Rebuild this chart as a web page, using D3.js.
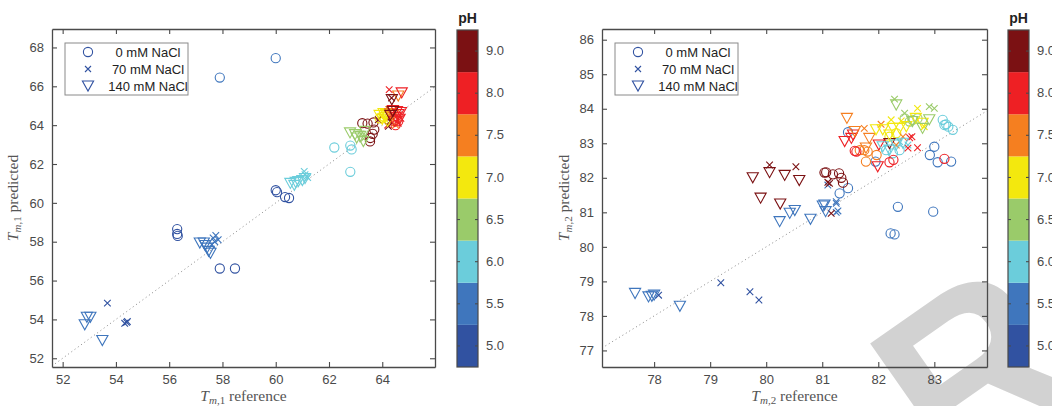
<!DOCTYPE html>
<html>
<head>
<meta charset="utf-8">
<script src="https://cdn.jsdelivr.net/npm/d3@7"></script>
<style>
body { margin: 0; background: #fff; }
svg { font-family: "Liberation Sans", Arial, sans-serif; }
</style>
</head>
<body>
<svg width="1052" height="406"></svg>
<script>
// pH categories of the colour bar, bottom to top
const phLevels = [5.0, 5.5, 6.0, 6.5, 7.0, 7.5, 8.0, 9.0]
const phColors = ['#3152a1', '#3f76bd', '#6bcddb', '#9acb6a', '#f3e80e', '#f57f20', '#ee2024', '#7b1113']
const saltLabels = ['0 mM NaCl', '70 mM NaCl', '140 mM NaCl']

// Tm,1 : [reference, predicted, pH]
const tm1Salt0 = [
	[57.9, 66.45, 5.5], [60.0, 67.45, 5.5],
	[56.3, 58.65, 5.0], [56.3, 58.4, 5.0], [56.32, 58.3, 5.0],
	[57.9, 56.62, 5.0], [58.47, 56.62, 5.0],
	[60.0, 60.65, 5.0], [60.05, 60.55, 5.0], [60.35, 60.3, 5.0], [60.5, 60.25, 5.0],
	[62.2, 62.85, 6.0], [62.8, 62.95, 6.0], [62.85, 62.75, 6.0], [62.8, 61.6, 6.0],
	[63.25, 64.1, 9.0], [63.45, 64.08, 9.0], [63.67, 64.14, 9.0], [63.7, 63.77, 9.0],
	[63.64, 63.55, 9.0], [63.55, 63.34, 9.0], [63.54, 63.16, 9.0],
	[63.9, 64.35, 7.0], [64.05, 64.45, 7.0],
	[64.45, 64.2, 7.5],
	[64.6, 64.2, 8.0], [64.5, 64.0, 8.0]
]
const tm1Salt70 = [
	[53.68, 54.84, 5.0], [54.33, 53.8, 5.0], [54.43, 53.89, 5.0], [54.4, 53.85, 5.0],
	[57.65, 58.19, 5.5], [57.75, 58.32, 5.5], [57.84, 58.1, 5.5], [57.71, 58.0, 5.5], [57.6, 57.85, 5.5],
	[61.07, 61.62, 6.0], [61.16, 61.36, 6.0], [61.1, 61.45, 6.0], [61.2, 61.3, 6.0],
	[63.2, 63.55, 6.5], [63.3, 63.3, 6.5],
	[63.95, 64.45, 7.0], [64.1, 64.3, 7.0],
	[64.3, 64.4, 7.5], [64.5, 64.0, 7.5],
	[64.26, 65.83, 8.0], [64.6, 64.1, 8.0], [64.2, 64.0, 8.0], [64.7, 64.35, 8.0],
	[63.85, 64.28, 9.0], [64.23, 63.94, 9.0], [64.3, 64.2, 9.0], [64.35, 65.4, 9.0]
]
const tm1Salt140 = [
	[52.83, 53.72, 5.5], [52.91, 54.11, 5.5], [53.04, 54.11, 5.5], [53.49, 52.91, 5.5],
	[57.15, 57.93, 5.5], [57.3, 57.93, 5.5], [57.42, 57.67, 5.5], [57.48, 57.5, 5.5], [57.35, 57.8, 5.5], [57.55, 57.4, 5.5],
	[60.55, 61.0, 6.0], [60.75, 61.05, 6.0], [60.7, 60.9, 6.0], [60.85, 61.1, 6.0], [61.0, 61.15, 6.0], [61.1, 61.25, 6.0],
	[62.79, 63.6, 6.5], [62.98, 63.51, 6.5], [63.17, 63.42, 6.5], [63.29, 63.16, 6.5], [63.04, 63.34, 6.5], [63.35, 63.68, 6.5],
	[63.9, 64.5, 7.0], [64.05, 64.6, 7.0], [64.1, 64.4, 7.0], [64.15, 64.55, 7.0], [64.0, 64.3, 7.0], [64.2, 64.2, 7.0],
	[64.3, 64.6, 7.5], [64.4, 64.5, 7.5], [64.35, 64.7, 7.5], [64.6, 65.5, 7.5],
	[64.4, 64.75, 8.0], [64.55, 64.7, 8.0], [64.6, 64.55, 8.0], [64.7, 64.65, 8.0], [64.5, 64.4, 8.0],
	[64.65, 64.3, 8.0], [64.45, 64.2, 8.0], [64.73, 65.66, 8.0],
	[64.4, 64.7, 9.0], [64.3, 64.5, 9.0], [64.36, 65.31, 9.0]
]

// Tm,2 : [reference, predicted, pH]
const tm2Salt0 = [
	[81.31, 81.55, 5.5], [81.46, 81.7, 5.5], [82.35, 81.16, 5.5], [82.98, 81.02, 5.5],
	[82.22, 80.39, 5.5], [82.29, 80.36, 5.5], [83.0, 82.9, 5.5], [82.92, 82.66, 5.5],
	[83.06, 82.45, 5.5], [83.3, 82.47, 5.5], [81.46, 83.32, 5.5], [81.95, 82.47, 5.5],
	[83.15, 83.68, 6.0], [83.18, 83.53, 6.0], [83.25, 83.48, 6.0], [83.33, 83.39, 6.0], [83.21, 83.55, 6.0],
	[82.14, 82.8, 6.0], [82.26, 82.71, 6.0], [82.38, 82.8, 6.0],
	[82.47, 83.72, 6.5], [82.61, 83.68, 6.5], [82.56, 83.63, 6.5], [82.7, 83.72, 6.5],
	[82.2, 83.19, 7.0], [82.32, 83.29, 7.0],
	[81.67, 82.8, 7.5], [81.75, 82.8, 7.5], [81.81, 82.76, 7.5], [81.78, 82.47, 7.5], [81.97, 82.66, 7.5],
	[83.18, 82.55, 8.0], [81.58, 82.78, 8.0], [81.61, 82.76, 8.0], [82.2, 82.45, 8.0], [82.27, 82.52, 8.0],
	[81.04, 82.15, 9.0], [81.07, 82.16, 9.0], [81.19, 82.1, 9.0], [81.3, 82.13, 9.0], [81.34, 82.0, 9.0], [81.37, 81.86, 9.0]
]
const tm2Salt70 = [
	[78.08, 78.6, 5.0], [79.19, 78.96, 5.0], [79.71, 78.7, 5.0], [79.87, 78.46, 5.0],
	[81.1, 81.79, 5.5], [81.25, 81.26, 5.5], [81.28, 81.04, 5.5], [81.25, 81.31, 5.5], [81.25, 81.0, 5.5],
	[80.06, 82.37, 9.0], [80.53, 82.32, 9.0], [81.13, 81.84, 9.0], [81.1, 81.87, 9.0], [81.16, 80.97, 9.0],
	[82.38, 83.05, 6.0], [82.53, 82.95, 6.0],
	[82.29, 84.28, 6.5], [82.47, 83.87, 6.5], [82.91, 84.06, 6.5], [83.0, 84.01, 6.5],
	[82.23, 83.68, 7.0], [82.41, 83.65, 7.0], [82.7, 84.01, 7.0], [82.82, 83.48, 7.0],
	[81.75, 83.43, 7.5], [82.05, 83.55, 7.5], [82.32, 82.95, 7.5], [82.44, 83.19, 7.5],
	[82.53, 82.86, 8.0], [82.6, 83.19, 8.0], [82.56, 83.16, 8.0], [82.7, 82.87, 8.0]
]
const tm2Salt140 = [
	[77.66, 78.65, 5.5], [77.9, 78.55, 5.5], [77.96, 78.57, 5.5], [78.0, 78.6, 5.5], [78.46, 78.28, 5.5],
	[80.24, 80.73, 5.5], [80.42, 80.97, 5.5], [80.51, 81.05, 5.5], [80.79, 80.8, 5.5],
	[81.04, 81.21, 5.5], [81.06, 81.02, 5.5], [81.01, 81.18, 5.5],
	[79.76, 82.0, 9.0], [80.06, 82.15, 9.0], [80.33, 82.07, 9.0], [80.59, 81.92, 9.0],
	[79.9, 81.41, 9.0], [80.25, 81.24, 9.0], [82.2, 82.99, 9.0],
	[81.4, 83.05, 8.0], [81.52, 83.14, 8.0], [81.55, 83.24, 8.0], [82.01, 82.95, 8.0], [81.99, 82.32, 8.0],
	[81.44, 83.72, 7.5], [81.58, 83.34, 7.5], [81.84, 83.14, 7.5], [81.78, 82.86, 7.5],
	[81.96, 83.39, 7.0], [82.08, 83.39, 7.0], [82.2, 83.24, 7.0], [82.26, 83.43, 7.0],
	[82.38, 83.43, 7.0], [82.5, 83.48, 7.0], [82.67, 83.72, 7.0], [82.79, 83.58, 7.0],
	[82.32, 84.11, 6.5], [82.61, 83.63, 6.5], [82.79, 83.43, 6.5], [82.91, 83.68, 6.5],
	[82.08, 82.9, 6.0], [82.2, 82.8, 6.0], [82.32, 82.95, 6.0], [82.44, 83.0, 6.0]
]

const tm1XTicks = [52, 54, 56, 58, 60, 62, 64]
const tm1YTicks = [52, 54, 56, 58, 60, 62, 64, 66, 68]
const tm2XTicks = [78, 79, 80, 81, 82, 83]
const tm2YTicks = [77, 78, 79, 80, 81, 82, 83, 84, 85, 86]

const axisColor = '#4a4a4a'
const svg = d3.select('svg')
const color = d3.scaleOrdinal().domain(phLevels).range(phColors)

// faint watermark behind everything
svg.append('text')
	.attr('transform', 'translate(950,485) rotate(-35)')
	.attr('font-size', 235).attr('font-weight', 'bold')
	.attr('fill', '#d2d2d2')
	.text('R')

function markerPath(kind, size) {
	if (kind === 1) {
		const s = size
		return 'M' + (-s) + ',' + (-s) + 'L' + s + ',' + s + 'M' + (-s) + ',' + s + 'L' + s + ',' + (-s)
	}
	const w = size, h = size * 0.9
	return 'M' + (-w) + ',' + (-h) + 'L' + w + ',' + (-h) + 'L0,' + h + 'Z'
}

function drawMarkers(g, data, kind, x, y) {
	const sel = g.selectAll(null).data(data)
	if (kind === 0) {
		sel.enter().append('circle')
			.attr('cx', d => x(d[0])).attr('cy', d => y(d[1])).attr('r', 4.6)
			.attr('fill', 'none').attr('stroke', d => color(d[2])).attr('stroke-width', 1.1)
	} else {
		sel.enter().append('path')
			.attr('transform', d => 'translate(' + x(d[0]) + ',' + y(d[1]) + ')')
			.attr('d', markerPath(kind, kind === 1 ? 3.3 : 5.6))
			.attr('fill', 'none').attr('stroke', d => color(d[2])).attr('stroke-width', 1.1)
	}
}

function styleAxis(a) {
	a.select('.domain').attr('stroke', axisColor).attr('stroke-width', 1.3)
	a.selectAll('.tick line').attr('stroke', axisColor).attr('stroke-width', 1.1)
	a.selectAll('.tick text').attr('fill', axisColor).attr('font-size', 13)
		.attr('font-family', '"Liberation Sans", Arial, sans-serif')
}

function axisLabel(g, px, py, rotate, sub, word) {
	const t = g.append('text')
		.attr('transform', 'translate(' + px + ',' + py + ')' + (rotate ? ' rotate(-90)' : ''))
		.attr('text-anchor', 'middle')
		.attr('font-family', '"Liberation Serif", "DejaVu Serif", serif')
		.attr('font-size', 15.5).attr('fill', '#555')
	t.append('tspan').attr('font-style', 'italic').text('T')
	t.append('tspan').attr('font-style', 'italic').attr('font-size', 11).attr('dy', 3).text(sub.slice(0, 1))
	t.append('tspan').attr('font-size', 11).text(sub.slice(1))
	t.append('tspan').attr('dy', -3).text(' ' + word)
}

function drawPanel(p) {
	const g = svg.append('g')
	const x = d3.scaleLinear().domain(p.xDomain).range([p.left, p.right])
	const y = d3.scaleLinear().domain(p.yDomain).range([p.bottom, p.top])

	g.append('clipPath').attr('id', p.id + '-clip')
		.append('rect').attr('x', p.left).attr('y', p.top)
		.attr('width', p.right - p.left).attr('height', p.bottom - p.top)
	const plot = g.append('g').attr('clip-path', 'url(#' + p.id + '-clip)')

	// identity line
	const lo = Math.max(p.xDomain[0], p.yDomain[0]), hi = Math.min(p.xDomain[1], p.yDomain[1])
	plot.append('line')
		.attr('x1', x(lo)).attr('y1', y(lo)).attr('x2', x(hi)).attr('y2', y(hi))
		.attr('stroke', '#888').attr('stroke-width', 1).attr('stroke-dasharray', '1,3')

	p.series.forEach((data, kind) => drawMarkers(plot, data, kind, x, y))

	const fmt = d3.format('d')
	styleAxis(g.append('g').attr('transform', 'translate(0,' + p.bottom + ')')
		.call(d3.axisBottom(x).tickValues(p.xTicks).tickFormat(fmt).tickSizeInner(-5).tickSizeOuter(0).tickPadding(8)))
	styleAxis(g.append('g').attr('transform', 'translate(0,' + p.top + ')')
		.call(d3.axisTop(x).tickValues(p.xTicks).tickSizeInner(-5).tickSizeOuter(0).tickFormat('')))
	styleAxis(g.append('g').attr('transform', 'translate(' + p.left + ',0)')
		.call(d3.axisLeft(y).tickValues(p.yTicks).tickFormat(fmt).tickSizeInner(-5).tickSizeOuter(0).tickPadding(8)))
	styleAxis(g.append('g').attr('transform', 'translate(' + p.right + ',0)')
		.call(d3.axisRight(y).tickValues(p.yTicks).tickSizeInner(-5).tickSizeOuter(0).tickFormat('')))

	axisLabel(g, (p.left + p.right) / 2, 401, false, p.sub, 'reference')
	axisLabel(g, p.ylabelX, (p.top + p.bottom) / 2, true, p.sub, 'predicted')

	// legend
	const lg = g.append('g').attr('transform', 'translate(' + (p.left + 13) + ',43)')
	lg.append('rect').attr('width', 123).attr('height', 52)
		.attr('fill', '#fff').attr('stroke', '#8a8a8a').attr('stroke-width', 1)
	saltLabels.forEach((label, i) => {
		const row = lg.append('g').attr('transform', 'translate(0,' + (9 + i * 17) + ')')
		if (i === 0) {
			row.append('circle').attr('cx', 23).attr('r', 4.6)
				.attr('fill', 'none').attr('stroke', phColors[0]).attr('stroke-width', 1.1)
		} else {
			row.append('path').attr('transform', 'translate(23,0)')
				.attr('d', markerPath(i, i === 1 ? 3 : 5.6))
				.attr('fill', 'none').attr('stroke', phColors[0]).attr('stroke-width', 1.1)
		}
		row.append('text').attr('x', 83).attr('y', 4.5).attr('text-anchor', 'middle')
			.attr('font-size', 13).attr('fill', '#222').text(label)
	})

	// colour bar
	const cb = g.append('g')
	const band = d3.scaleBand().domain(phLevels.slice().reverse()).range([p.cbTop, p.cbBottom])
	cb.selectAll('rect').data(phLevels).enter().append('rect')
		.attr('x', p.cbLeft).attr('y', d => band(d))
		.attr('width', p.cbWidth).attr('height', band.bandwidth())
		.attr('fill', d => color(d))
	const cbAxis = cb.append('g').attr('transform', 'translate(' + (p.cbLeft + p.cbWidth) + ',0)')
		.call(d3.axisRight(band).tickSizeInner(-3).tickSizeOuter(0).tickPadding(8).tickFormat(d3.format('.1f')))
	styleAxis(cbAxis)
	cbAxis.select('.domain').remove()
	cb.append('g').attr('transform', 'translate(' + p.cbLeft + ',0)')
		.call(d3.axisLeft(band).tickSizeInner(-3).tickSizeOuter(0).tickFormat(''))
		.call(a => { a.select('.domain').remove(); a.selectAll('.tick line').attr('stroke', axisColor) })
	cb.append('rect').attr('x', p.cbLeft).attr('y', p.cbTop)
		.attr('width', p.cbWidth).attr('height', p.cbBottom - p.cbTop)
		.attr('fill', 'none').attr('stroke', axisColor).attr('stroke-width', 1.2)
	cb.append('text').attr('x', p.cbLeft + p.cbWidth / 2).attr('y', 23)
		.attr('text-anchor', 'middle').attr('font-weight', 'bold').attr('font-size', 14)
		.attr('fill', '#222').text('pH')
}

drawPanel({
	id: 'tm1', sub: 'm,1',
	left: 52, right: 435, top: 29, bottom: 367, ylabelX: 18,
	xDomain: [51.6, 65.98], yDomain: [51.55, 68.95],
	xTicks: tm1XTicks, yTicks: tm1YTicks,
	series: [tm1Salt0, tm1Salt70, tm1Salt140],
	cbLeft: 457, cbWidth: 21, cbTop: 30, cbBottom: 367
})

drawPanel({
	id: 'tm2', sub: 'm,2',
	left: 602, right: 987, top: 29, bottom: 367, ylabelX: 569,
	xDomain: [77.07, 83.94], yDomain: [76.52, 86.31],
	xTicks: tm2XTicks, yTicks: tm2YTicks,
	series: [tm2Salt0, tm2Salt70, tm2Salt140],
	cbLeft: 1008, cbWidth: 21, cbTop: 30, cbBottom: 367
})
</script>
</body>
</html>
